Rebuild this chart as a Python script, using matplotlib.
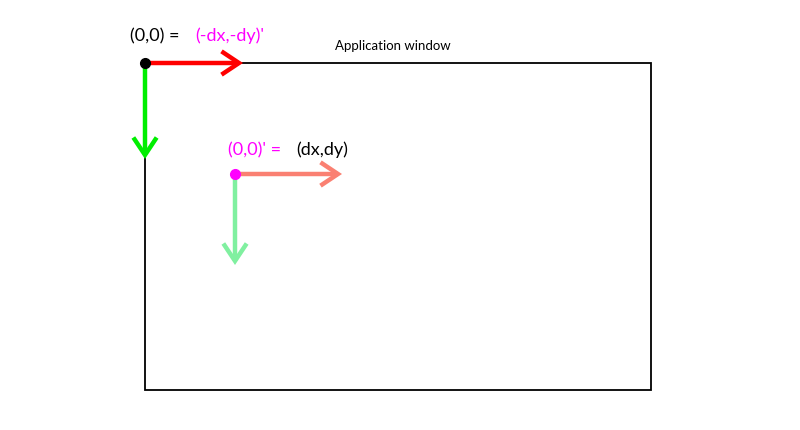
import matplotlib.pyplot as plt
from matplotlib.patches import Rectangle, FancyArrowPatch

window = (145, 64, 651, 391)
origins = [(145, 64), (235, 175)]
origin_colors = ['black', '#ff00ff']
x_arrow_ends = [243, 342]
y_arrow_ends = [160, 266]
x_colors = ['#ff0000', '#fa8072']
y_colors = ['#00ee00', '#80f0a0']

fig = plt.figure(figsize=(8, 4.31), dpi=100)
ax = fig.add_axes([0, 0, 1, 1])
ax.set_xlim(0, 800); ax.set_ylim(431, 0); ax.axis('off')
plt.rcParams['font.family'] = ['Lato', 'DejaVu Sans']

x0, y0, x1, y1 = window
ax.add_patch(Rectangle((x0, y0), x1 - x0, y1 - y0, fill=False, ec='black', lw=1.3))

for (ox, oy), oc, xe, ye, xc, yc in zip(origins, origin_colors, x_arrow_ends, y_arrow_ends, x_colors, y_colors):
    for end, col in (((xe, oy), xc), ((ox, ye), yc)):
        ax.add_patch(FancyArrowPatch((ox, oy), end, arrowstyle='->,head_length=0.9,head_width=0.6',
                                     color=col, lw=3.2, mutation_scale=14, shrinkA=0, shrinkB=0,
                                     capstyle='butt', joinstyle='miter'))
    ax.plot([ox], [oy], 'o', color=oc, ms=7, zorder=5)

ax.text(130, 36, '(0,0) = ', fontsize=13, va='center', color='black')
ax.text(195, 36, "(-dx,-dy)'", fontsize=13, va='center', color='#ff00ff')
ax.text(335, 46, 'Application window', fontsize=9.5, va='center', color='black')
ax.text(228, 150, "(0,0)' = ", fontsize=13, va='center', color='#ff00ff')
ax.text(296, 150, '(dx,dy)', fontsize=13, va='center', color='black')

fig.savefig('out.png', dpi=100)
